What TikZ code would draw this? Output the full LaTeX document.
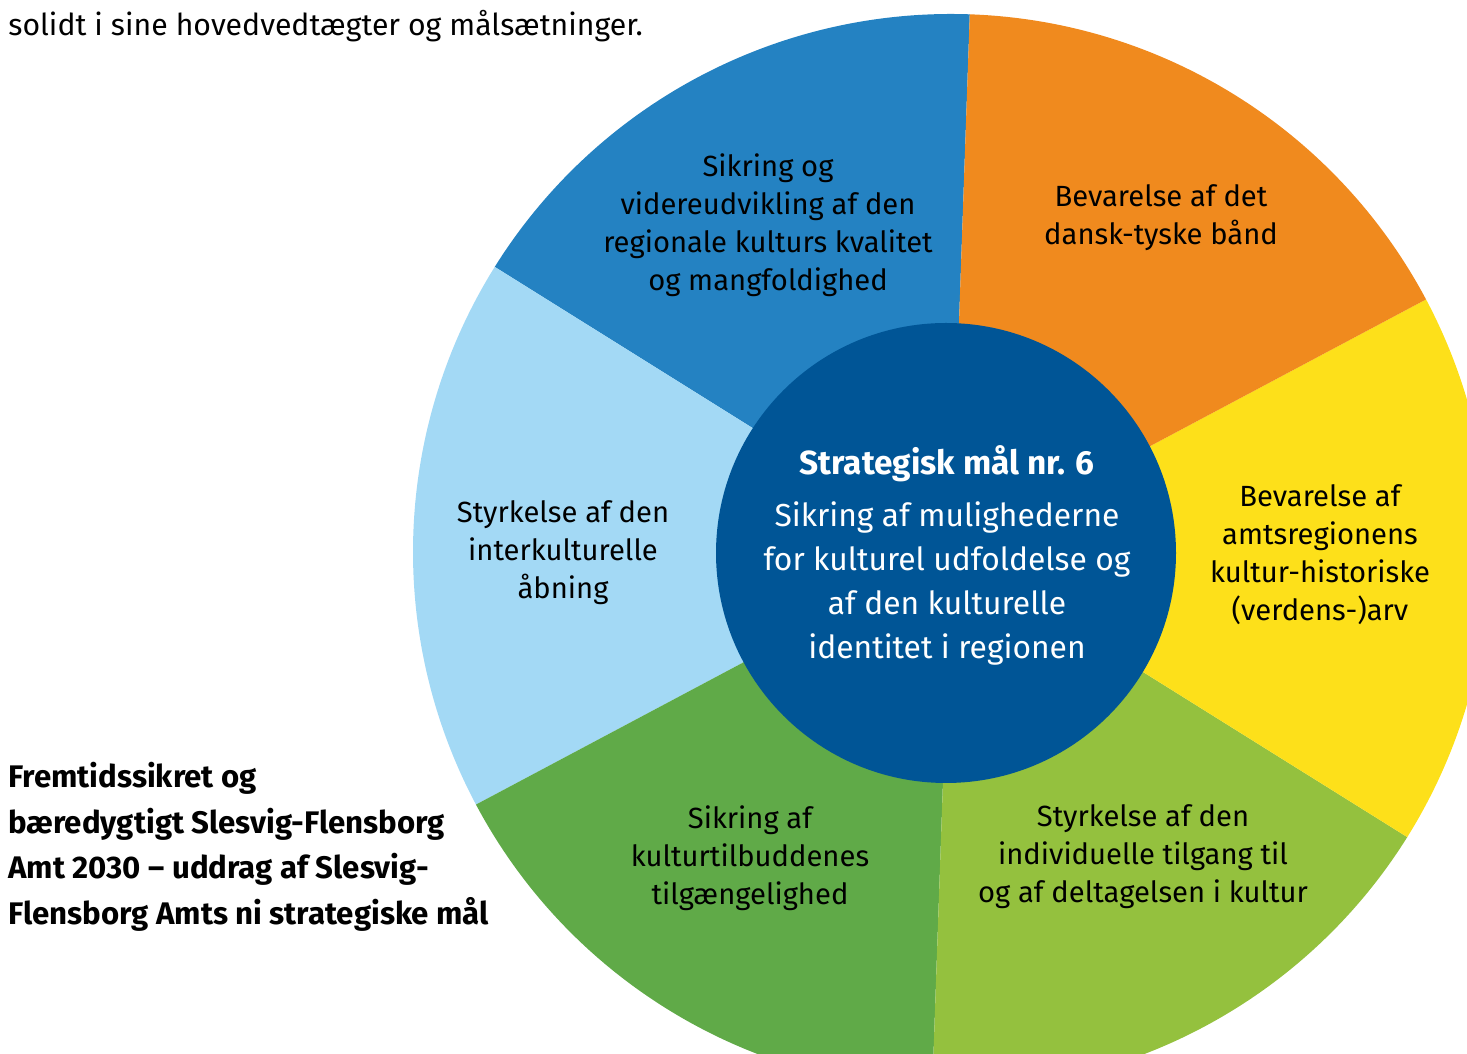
\documentclass[tikz,border=0pt]{standalone}
\usepackage{fontspec}
\setmainfont{Fira Sans}
\definecolor{segdarkblue}{RGB}{36, 130, 194}
\definecolor{segorange}{RGB}{240, 138, 30}
\definecolor{segyellow}{RGB}{253, 224, 26}
\definecolor{seglightgreen}{RGB}{148, 193, 62}
\definecolor{seggreen}{RGB}{96, 170, 72}
\definecolor{seglightblue}{RGB}{163, 217, 245}
\definecolor{goalblue}{RGB}{0, 85, 150}
\tikzset{
	seglabel/.style={align=center, text=black, font=\fontsize{14.6}{19}\selectfont},
	goallabel/.style={align=center, text=white, font=\fontsize{15.9}{22}\selectfont},
	pagetext/.style={align=left, text=black, inner sep=0pt}
}

\begin{document}
\begin{tikzpicture}[x=0.5pt, y=0.5pt]
	\useasboundingbox (0, 0) rectangle (1467, 1054);
	\begin{scope}
		\clip (0, 0) rectangle (1467, 1054);
		% the six sectors of the wheel
		\fill [segdarkblue] (951, 502) -- ++(88:538) arc[start angle=88, end angle=148, radius=538] -- cycle;
		\fill [seglightblue] (951, 502) -- ++(148:538) arc[start angle=148, end angle=208, radius=538] -- cycle;
		\fill [seggreen] (951, 502) -- ++(208:538) arc[start angle=208, end angle=268, radius=538] -- cycle;
		\fill [seglightgreen] (951, 502) -- ++(268:538) arc[start angle=268, end angle=328, radius=538] -- cycle;
		\fill [segyellow] (951, 502) -- ++(328:538) arc[start angle=328, end angle=388, radius=538] -- cycle;
		\fill [segorange] (951, 502) -- ++(28:538) arc[start angle=28, end angle=88, radius=538] -- cycle;
	\end{scope}
	\fill [goalblue] (946, 501) circle[radius=230];

	\node [seglabel] (videreudvikling) at (768, 829) {Sikring og\\videreudvikling af den\\regionale kulturs kvalitet\\og mangfoldighed};
	\node [seglabel] (baand) at (1161, 836) {Bevarelse af det\\dansk-tyske bånd};
	\node [seglabel] (arv) at (1320, 499) {Bevarelse af\\amtsregionens\\kultur-historiske\\(verdens-)arv};
	\node [seglabel] (tilgang) at (1143, 197) {Styrkelse af den\\individuelle tilgang til\\og af deltagelsen i kultur};
	\node [seglabel] (tilgaengelighed) at (750, 196) {Sikring af\\kulturtilbuddenes\\tilgængelighed};
	\node [seglabel] (aabning) at (563, 501) {Styrkelse af den\\interkulturelle\\åbning};
	\node [goallabel] (maal) at (947, 499) {{\fontsize{16.7}{22}\selectfont\bfseries Strategisk mål nr. 6}\\[4pt]Sikring af mulighederne\\for kulturel udfoldelse og\\af den kulturelle\\identitet i regionen};

	\node [pagetext, anchor=base west, font=\fontsize{15.1}{19}\selectfont] (solidt) at (8, 1018) {solidt i sine hovedvedtægter og målsætninger.};
	\node [pagetext, anchor=west, font=\fontsize{15.6}{22.75}\selectfont\bfseries] (titel) at (8, 207) {Fremtidssikret og\\bæredygtigt Slesvig-Flensborg\\Amt 2030 – uddrag af Slesvig-\\Flensborg Amts ni strategiske mål};
\end{tikzpicture}
\end{document}
